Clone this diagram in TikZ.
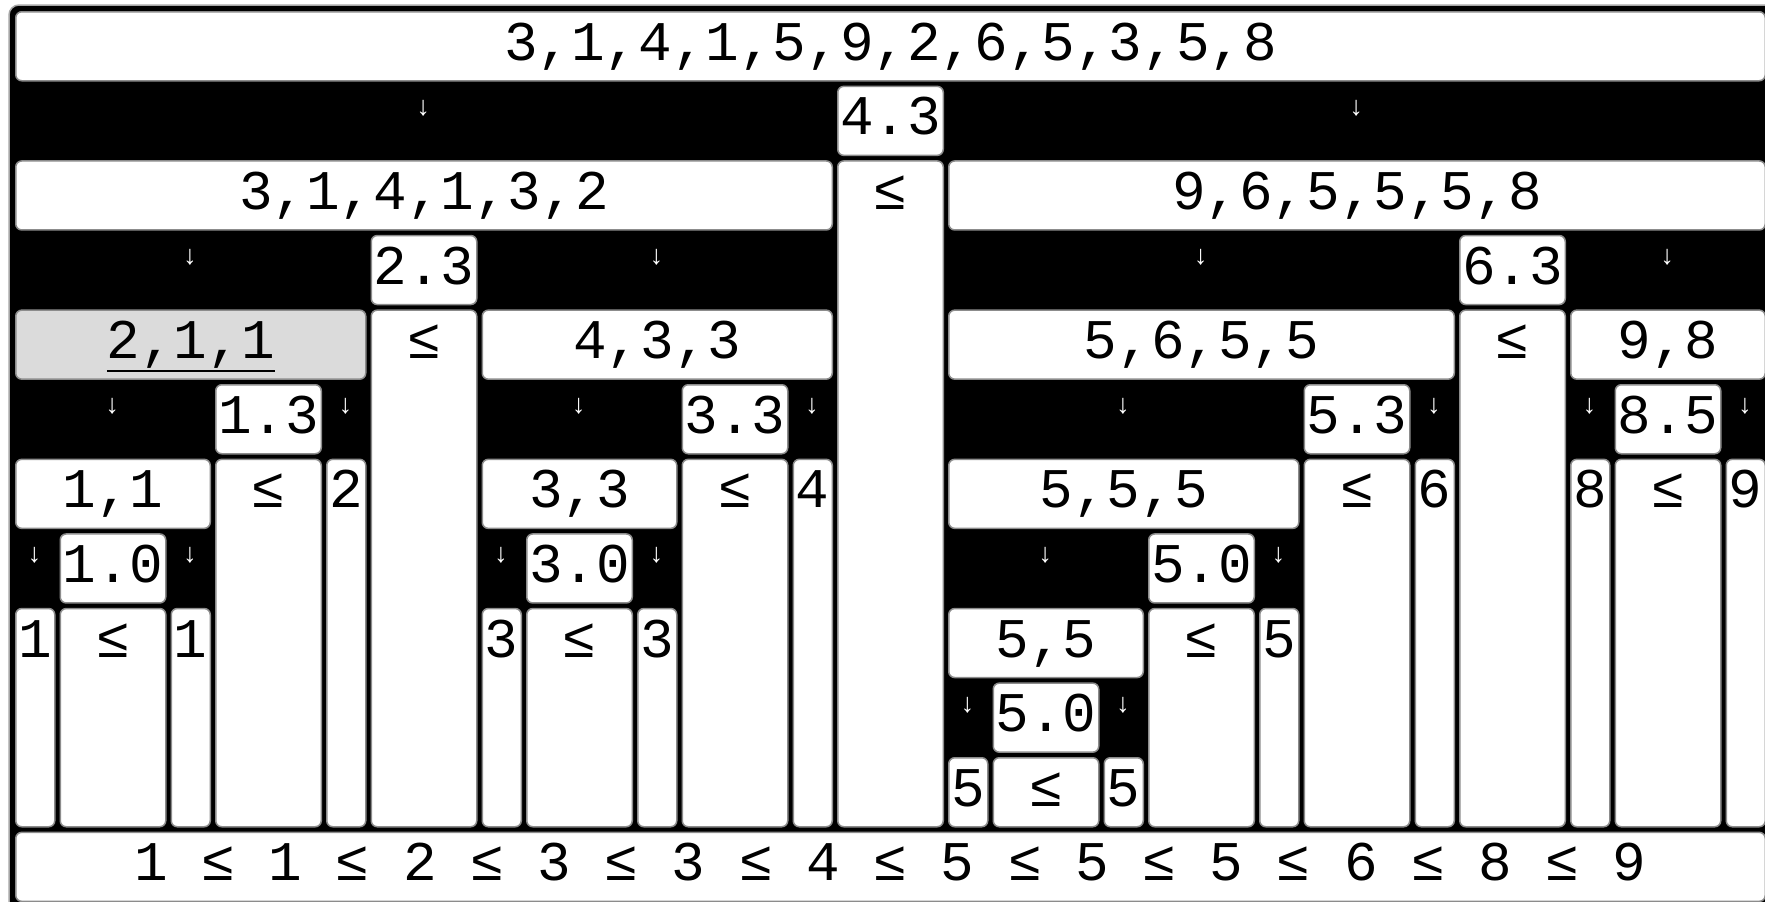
\documentclass[tikz,border=0pt]{standalone}
\usepackage{fontspec}
\usepackage{tikz}
\newfontfamily\cellmono{Liberation Mono}
\tikzstyle{cell} = [
rectangle,
rounded corners=6pt,
draw=black!45,
line width=1.5pt,
fill=white,
anchor=north west,
inner xsep=0pt,
inner ysep=7.5pt,
minimum height=69pt,
text height=41pt,
text depth=13pt,
font=\cellmono\fontsize{56pt}{60pt}\selectfont
]
\tikzstyle{marked} = [
cell,
fill=black!14
]
\tikzstyle{splitarrow} = [
inner sep=0pt,
text=white,
font=\cellmono\fontsize{27pt}{30pt}\selectfont
]
\tikzstyle{frame} = [
fill=black,
draw=black!35,
line width=1.5pt,
rounded corners=10pt
]

% list box over number slots #3..#4, in row #5
\newcommand{\seqcell}[6][cell]{%
\node (#2) [#1, minimum width={nx(#4)-nx(#3)+39}] at ({nx(#3)},{ry(#5)}) {#6};}
% pivot box in pivot slot #2, row #3
\newcommand{\pivcell}[4]{%
\node (#1) [cell, minimum width=105.5pt] at ({px(#2)},{ry(#3)}) {#4};}
% tall boxes, from row #3 down to row 10
\newcommand{\pivcol}[3]{%
\pgfmathsetmacro\celldp{(10-#3)*74.6+13}%
\node (#1) [cell, minimum width=105.5pt, text depth=\celldp pt] at ({px(#2)},{ry(#3)}) {≤};}
\newcommand{\numcol}[4]{%
\pgfmathsetmacro\celldp{(10-#3)*74.6+13}%
\node (#1) [cell, minimum width=39pt, text depth=\celldp pt] at ({nx(#2)},{ry(#3)}) {#4};}
% down arrow over number slots #2..#3, in row #4
\newcommand{\splitat}[4]{%
\node (#1) [splitarrow] at ({(nx(#2)+nx(#3)+39)/2},{ry(#4)+22.5}) {↓};}

\begin{document}
\begin{tikzpicture}[x=1pt, y=-1pt,
declare function={nx(\i)=15+(\i-1)*155.5; px(\j)=15+\j*44.5+(\j-1)*111; ry(\r)=11+\r*74.6;}]

\useasboundingbox (0,0) rectangle (1765,902);
\clip (0,0) rectangle (1765,902);
\draw [frame] (9,5) rectangle (1790,920);

% level 0
\seqcell{s0}{1}{12}{0}{3,1,4,1,5,9,2,6,5,3,5,8}
\splitat{d1a}{1}{6}{1}
\pivcell{p43}{6}{1}{4.3}
\splitat{d1b}{7}{12}{1}

% level 1
\seqcell{s1a}{1}{6}{2}{3,1,4,1,3,2}
\pivcol{le43}{6}{2}
\seqcell{s1b}{7}{12}{2}{9,6,5,5,5,8}
\splitat{d3a}{1}{3}{3}
\pivcell{p23}{3}{3}{2.3}
\splitat{d3b}{4}{6}{3}
\splitat{d3c}{7}{10}{3}
\pivcell{p63}{10}{3}{6.3}
\splitat{d3d}{11}{12}{3}

% level 2
\seqcell[marked]{s2a}{1}{3}{4}{2,1,1}
\draw [line width=2pt] ([xshift=-84pt,yshift=-12pt]s2a.base) -- ([xshift=84pt,yshift=-12pt]s2a.base);
\pivcol{le23}{3}{4}
\seqcell{s2b}{4}{6}{4}{4,3,3}
\seqcell{s2c}{7}{10}{4}{5,6,5,5}
\pivcol{le63}{10}{4}
\seqcell{s2d}{11}{12}{4}{9,8}
\splitat{d5a}{1}{2}{5}
\pivcell{p13}{2}{5}{1.3}
\splitat{d5b}{3}{3}{5}
\splitat{d5c}{4}{5}{5}
\pivcell{p33}{5}{5}{3.3}
\splitat{d5d}{6}{6}{5}
\splitat{d5e}{7}{9}{5}
\pivcell{p53}{9}{5}{5.3}
\splitat{d5f}{10}{10}{5}
\splitat{d5g}{11}{11}{5}
\pivcell{p85}{11}{5}{8.5}
\splitat{d5h}{12}{12}{5}

% level 3
\seqcell{s3a}{1}{2}{6}{1,1}
\pivcol{le13}{2}{6}
\numcol{n3}{3}{6}{2}
\seqcell{s3b}{4}{5}{6}{3,3}
\pivcol{le33}{5}{6}
\numcol{n6}{6}{6}{4}
\seqcell{s3c}{7}{9}{6}{5,5,5}
\pivcol{le53}{9}{6}
\numcol{n10}{10}{6}{6}
\numcol{n11}{11}{6}{8}
\pivcol{le85}{11}{6}
\numcol{n12}{12}{6}{9}
\splitat{d7a}{1}{1}{7}
\pivcell{p10}{1}{7}{1.0}
\splitat{d7b}{2}{2}{7}
\splitat{d7c}{4}{4}{7}
\pivcell{p30}{4}{7}{3.0}
\splitat{d7d}{5}{5}{7}
\splitat{d7e}{7}{8}{7}
\pivcell{p50a}{8}{7}{5.0}
\splitat{d7f}{9}{9}{7}

% level 4
\numcol{n1}{1}{8}{1}
\pivcol{le10}{1}{8}
\numcol{n2}{2}{8}{1}
\numcol{n4}{4}{8}{3}
\pivcol{le30}{4}{8}
\numcol{n5}{5}{8}{3}
\seqcell{s4a}{7}{8}{8}{5,5}
\pivcol{le50a}{8}{8}
\numcol{n9}{9}{8}{5}
\splitat{d9a}{7}{7}{9}
\pivcell{p50b}{7}{9}{5.0}
\splitat{d9b}{8}{8}{9}

% level 5
\numcol{n7}{7}{10}{5}
\pivcol{le50b}{7}{10}
\numcol{n8}{8}{10}{5}

% result
\seqcell{s5}{1}{12}{11}{1 ≤ 1 ≤ 2 ≤ 3 ≤ 3 ≤ 4 ≤ 5 ≤ 5 ≤ 5 ≤ 6 ≤ 8 ≤ 9}

\end{tikzpicture}
\end{document}
